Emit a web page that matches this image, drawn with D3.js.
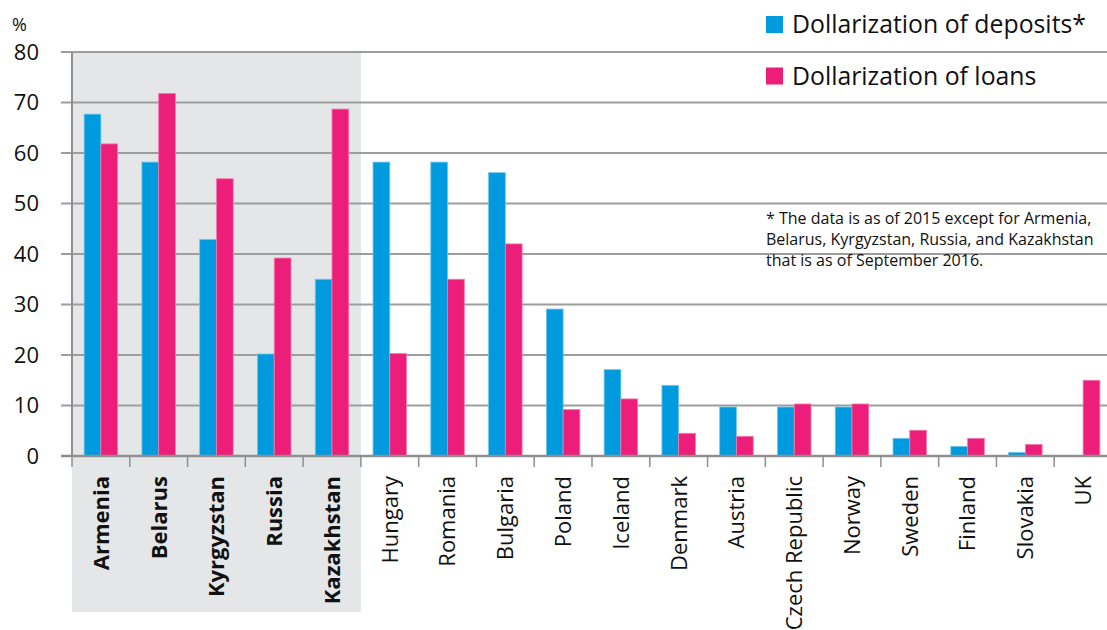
<!DOCTYPE html>
<html>
<head>
<meta charset="utf-8">
<script src="https://cdn.jsdelivr.net/npm/d3@7"></script>
<style>
  body { margin: 0; background: #fff; }
  svg { display: block; font-family: "Open Sans", "Noto Sans", sans-serif; }
</style>
</head>
<body>
<div id="chart"></div>
<script>
var countries = ["Armenia", "Belarus", "Kyrgyzstan", "Russia", "Kazakhstan",
    "Hungary", "Romania", "Bulgaria", "Poland", "Iceland", "Denmark", "Austria",
    "Czech Republic", "Norway", "Sweden", "Finland", "Slovakia", "UK"];
var highlighted = ["Armenia", "Belarus", "Kyrgyzstan", "Russia", "Kazakhstan"];
var deposits = [67.7, 58.2, 42.9, 20.2, 35.0, 58.2, 58.2, 56.1, 29.1, 17.1, 14.0, 9.7, 9.7, 9.7, 3.5, 1.9, 0.7, 0];
var loans = [61.8, 71.8, 54.9, 39.2, 68.7, 20.3, 35.0, 42.0, 9.2, 11.3, 4.5, 3.9, 10.3, 10.3, 5.1, 3.5, 2.3, 15.0];
var yTicks = [0, 10, 20, 30, 40, 50, 60, 70, 80];
var seriesNames = ["Dollarization of deposits*", "Dollarization of loans"];
var seriesColors = ["#009bdf", "#ed1e79"];
var noteLines = ["* The data is as of 2015 except for Armenia,",
    "Belarus, Kyrgyzstan, Russia, and Kazakhstan",
    "that is as of September 2016."];

var W = 1107, H = 630;
var svg = d3.select("#chart").append("svg")
    .attr("width", W)
    .attr("height", H);

var x = d3.scaleBand()
    .domain(countries)
    .range([72, 1112]);

var y = d3.scaleLinear()
    .domain([0, 80])
    .range([456, 52]);

var barW = x.bandwidth() * 0.29;

// shaded block behind the highlighted countries
svg.append("rect")
    .attr("x", x(highlighted[0]))
    .attr("y", y(80))
    .attr("width", x.bandwidth() * highlighted.length)
    .attr("height", 612 - y(80))
    .attr("fill", "#e5e6e8");

// gridlines
svg.append("g")
    .selectAll("line")
    .data(yTicks)
    .enter()
    .append("line")
    .attr("x1", 61)
    .attr("x2", W)
    .attr("y1", function (d) { return y(d) })
    .attr("y2", function (d) { return y(d) })
    .attr("stroke", "#9d9d9d")
    .attr("stroke-width", 2);

// y tick labels
svg.append("g")
    .selectAll("text")
    .data(yTicks)
    .enter()
    .append("text")
    .attr("x", 39)
    .attr("y", function (d) { return y(d) })
    .attr("dy", "0.36em")
    .attr("text-anchor", "end")
    .style("font-size", "22px")
    .style("fill", "#111")
    .text(function (d) { return d; });

svg.append("text")
    .attr("x", 12)
    .attr("y", 31)
    .style("font-size", "18px")
    .style("fill", "#111")
    .text("%");

// bars
var pairs = countries.map(function (c, i) {
    return { name: c, values: [deposits[i], loans[i]] };
});
var groups = svg.append("g")
    .selectAll("g")
    .data(pairs)
    .enter()
    .append("g")
    .attr("transform", function (d) { return "translate(" + (x(d.name) + x.bandwidth() / 2) + ",0)"; });

groups.selectAll("rect")
    .data(function (d) {
        return d.values.map(function (v, k) { return { v: v, k: k }; })
            .filter(function (o) { return o.v > 0; });
    })
    .enter()
    .append("rect")
    .attr("x", function (d) { return d.k == 0 ? -barW : 0 })
    .attr("y", function (d) { return y(d.v) })
    .attr("width", barW)
    .attr("height", function (d) { return y(0) - y(d.v) })
    .attr("fill", function (d) { return seriesColors[d.k] })
    .attr("stroke", function (d) { return d.k == 0 ? "#6fc6ee" : "#f37aac" })
    .attr("stroke-width", 0.8);

// x axis line and ticks
svg.append("line")
    .attr("x1", 61).attr("x2", W)
    .attr("y1", y(0)).attr("y2", y(0))
    .attr("stroke", "#8f8f8f")
    .attr("stroke-width", 2.5);
svg.append("line")
    .attr("x1", 72).attr("x2", 72)
    .attr("y1", y(80)).attr("y2", y(0))
    .attr("stroke", "#8f8f8f")
    .attr("stroke-width", 2);
svg.append("g")
    .selectAll("line")
    .data(countries)
    .enter()
    .append("line")
    .attr("x1", function (d) { return x(d) })
    .attr("x2", function (d) { return x(d) })
    .attr("y1", y(0))
    .attr("y2", y(0) + 11)
    .attr("stroke", "#8f8f8f")
    .attr("stroke-width", 1.5);

// x labels, rotated
svg.append("g")
    .selectAll("text")
    .data(countries)
    .enter()
    .append("text")
    .attr("transform", function (d) { return "translate(" + (x(d) + x.bandwidth() / 2) + "," + 476 + ") rotate(-90)"; })
    .attr("dy", "0.36em")
    .attr("text-anchor", "end")
    .style("font-size", "22px")
    .style("font-weight", function (d) { return highlighted.indexOf(d) >= 0 ? "bold" : "normal" })
    .style("fill", "#111")
    .text(function (d) { return d; });

// legend
var legend = svg.append("g")
    .selectAll("g")
    .data(seriesNames)
    .enter()
    .append("g")
    .attr("transform", function (d, i) { return "translate(766," + (i == 0 ? 33 : 84.5) + ")"; });
legend.append("rect")
    .attr("x", 0)
    .attr("y", -17)
    .attr("width", 17)
    .attr("height", 17)
    .attr("fill", function (d, i) { return seriesColors[i] });
legend.append("text")
    .attr("x", 26)
    .attr("y", 0)
    .style("font-size", "24.8px")
    .style("fill", "#111")
    .text(function (d) { return d; });

// footnote
svg.append("g")
    .selectAll("text")
    .data(noteLines)
    .enter()
    .append("text")
    .attr("x", 766)
    .attr("y", function (d, i) { return 224 + i * 21 })
    .style("font-size", "16px")
    .style("fill", "#111")
    .text(function (d) { return d; });
</script>
</body>
</html>
